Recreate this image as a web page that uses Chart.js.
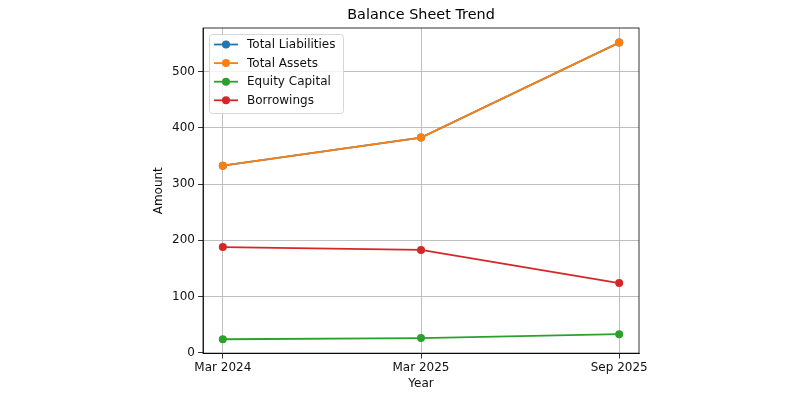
<!DOCTYPE html>
<html>
<head>
<meta charset="utf-8">
<script src="https://cdn.jsdelivr.net/npm/chart.js@4/dist/chart.umd.min.js"></script>
<style>
  html, body { margin: 0; padding: 0; background: #fff; }
  #wrap { width: 800px; height: 400px; }
</style>
</head>
<body>
<div id="wrap"><canvas id="chart" width="800" height="400"></canvas></div>
<script>
// 데이터
const years = ["Mar 2024", "Mar 2025", "Sep 2025"];
const totalLiabilities = [333, 383, 552];
const totalAssets = [333, 383, 552];
const equityCapital = [24, 26, 33];
const borrowings = [188, 183, 124];
const yTicks = [0, 100, 200, 300, 400, 500];

const seriesNames = ["Total Liabilities", "Total Assets", "Equity Capital", "Borrowings"];
const seriesValues = [totalLiabilities, totalAssets, equityCapital, borrowings];
const seriesColors = ["#1f77b4", "#ff7f0e", "#2ca02c", "#d62728"];

const FONT = "'DejaVu Sans', sans-serif";
const chartTitle = "Balance Sheet Trend";

// 네 변 테두리 + 제목 + 범례 (matplotlib 스타일)
const framePlugin = {
  id: "frame",
  afterDatasetsDraw(chart) {
    const { ctx, chartArea: a } = chart;
    ctx.save();
    ctx.strokeStyle = "#000";
    ctx.lineWidth = 0.8;
    ctx.strokeRect(a.left, a.top, a.right - a.left, a.bottom - a.top);

    // 제목 (축 영역 가운데)
    ctx.fillStyle = "#000";
    ctx.font = "14.4px " + FONT;
    ctx.textAlign = "center";
    ctx.textBaseline = "middle";
    ctx.fillText(chartTitle, (a.left + a.right) / 2, 15);

    // 범례 박스
    const x0 = 209, y0 = 34, w = 134, h = 79;
    ctx.beginPath();
    ctx.roundRect(x0 + 0.5, y0 + 0.5, w, h, 3);
    ctx.fillStyle = "rgba(255,255,255,0.8)";
    ctx.fill();
    ctx.strokeStyle = "#d6d6d6";
    ctx.lineWidth = 1;
    ctx.stroke();

    ctx.font = "12px " + FONT;
    ctx.textAlign = "left";
    chart.data.datasets.forEach((ds, i) => {
      const y = 44.5 + i * 18.6;
      ctx.strokeStyle = ds.borderColor;
      ctx.lineWidth = 1.8;
      ctx.beginPath();
      ctx.moveTo(214, y);
      ctx.lineTo(238, y);
      ctx.stroke();
      ctx.fillStyle = ds.borderColor;
      ctx.beginPath();
      ctx.arc(226, y, 4, 0, Math.PI * 2);
      ctx.fill();
      ctx.fillStyle = "#111";
      ctx.fillText(ds.label, 247, y + 0.5);
    });
    ctx.restore();
  },
};

const ctx = document.getElementById("chart").getContext("2d");

new Chart(ctx, {
  type: "line",
  data: {
    datasets: seriesNames.map((name, i) => ({
      label: name,
      data: seriesValues[i].map((v, j) => ({ x: j, y: v })),
      borderColor: seriesColors[i],
      backgroundColor: seriesColors[i],
      borderWidth: 1.8,
      pointRadius: 4,
      pointHoverRadius: 4,
      pointBorderWidth: 0,
      fill: false,
      tension: 0,
      order: seriesNames.length - i,
    })),
  },
  options: {
    responsive: false,
    animation: false,
    layout: { padding: { left: 148, right: 161, top: 28, bottom: 0 } },
    plugins: {
      legend: { display: false },
      tooltip: { enabled: false },
      title: { display: false },
    },
    scales: {
      x: {
        type: "linear",
        min: -0.1,
        max: 2.1,
        afterBuildTicks: (s) => { s.ticks = years.map((_, i) => ({ value: i })); },
        afterFit: (s) => { s.height = 46.5; },
        ticks: {
          color: "#111",
          font: { family: FONT, size: 12 },
          padding: 2,
          maxRotation: 0,
          callback: (v) => years[v],
        },
        grid: { color: "#b0b0b0", lineWidth: 0.8, tickLength: 5, tickColor: "#000" },
        border: { color: "#000", width: 0.8 },
        title: {
          display: true,
          text: "Year",
          color: "#111",
          font: { family: FONT, size: 12 },
          padding: { top: 0, bottom: 9 },
        },
      },
      y: {
        min: -1.4,
        max: 578,
        afterBuildTicks: (s) => { s.ticks = yTicks.map((v) => ({ value: v })); },
        afterFit: (s) => { s.width = 55; },
        ticks: {
          color: "#111",
          font: { family: FONT, size: 12 },
          padding: 3,
        },
        grid: { color: "#b0b0b0", lineWidth: 0.8, tickLength: 5, tickColor: "#000" },
        border: { color: "#000", width: 0.8 },
        title: {
          display: true,
          text: "Amount",
          color: "#111",
          font: { family: FONT, size: 12 },
          padding: { top: 4, bottom: 4 },
        },
      },
    },
  },
  plugins: [framePlugin],
});
</script>
</body>
</html>
